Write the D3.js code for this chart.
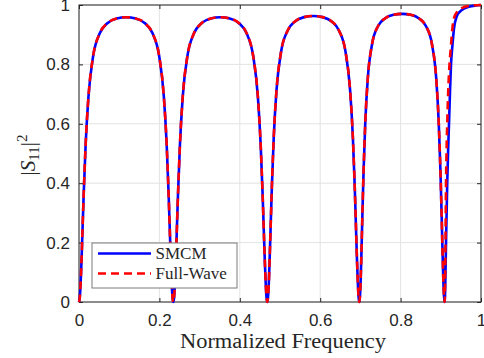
<!DOCTYPE html>
<html>
<head>
<meta charset="utf-8">
<script src="https://cdn.jsdelivr.net/npm/d3@7"></script>
<style>
  body { margin: 0; background: #fff; }
  .tick text { font-family: "Liberation Sans", Arial, sans-serif; font-size: 17px; fill: #262626; }
  .grid line { stroke: #e3e3e3; }
</style>
</head>
<body>
<div id="chart"></div>
<script>
// Data

var xTicks = [0, 0.2, 0.4, 0.6, 0.8, 1];
var yTicks = [0, 0.2, 0.4, 0.6, 0.8, 1];

var seriesNames = ["SMCM", "Full-Wave"];

var freq = [
  0, 0.0019, 0.0038, 0.0059, 0.0082, 0.0117, 0.0164, 0.0235, 0.0352, 0.0516, 0.0704, 0.0938,
  0.1173, 0.1408, 0.1642, 0.1830, 0.1994, 0.2111, 0.2182, 0.2229, 0.2264, 0.2287, 0.2308, 0.2327,
  0.2346, 0.2365, 0.2383, 0.2404, 0.2428, 0.2463, 0.2510, 0.2580, 0.2697, 0.2860, 0.3047, 0.3281,
  0.3515, 0.3749, 0.3983, 0.4170, 0.4333, 0.4450, 0.4520, 0.4567, 0.4602, 0.4626, 0.4647, 0.4665,
  0.4684, 0.4702, 0.4721, 0.4741, 0.4764, 0.4798, 0.4844, 0.4913, 0.5027, 0.5188, 0.5371, 0.5600,
  0.5829, 0.6057, 0.6286, 0.6469, 0.6630, 0.6744, 0.6813, 0.6859, 0.6893, 0.6916, 0.6937, 0.6955,
  0.6973, 0.6990, 0.7007, 0.7026, 0.7047, 0.7079, 0.7122, 0.7185, 0.7292, 0.7440, 0.7610, 0.7823,
  0.8035, 0.8247, 0.8460, 0.8630, 0.8778, 0.8885, 0.8948, 0.8991, 0.9023, 0.9044, 0.9063, 0.9080,
  0.9097, 0.9113, 0.9130, 0.9145, 0.9160, 0.9182, 0.9204, 0.9227, 0.9254, 0.9287, 0.9327, 0.9397,
  0.9477, 0.9577, 0.9697, 0.9847, 1.0
];

var smcm = [
  0, 0.0146, 0.0558, 0.1259, 0.2199, 0.3641, 0.5269, 0.6908, 0.8283, 0.9048, 0.9387, 0.9549,
  0.9590, 0.9549, 0.9387, 0.9048, 0.8283, 0.6908, 0.5269, 0.3641, 0.2199, 0.1259, 0.0558, 0.0146,
  0, 0.0146, 0.0558, 0.1259, 0.2199, 0.3641, 0.5269, 0.6908, 0.8283, 0.9048, 0.9387, 0.9549,
  0.9590, 0.9549, 0.9387, 0.9048, 0.8283, 0.6908, 0.5269, 0.3641, 0.2199, 0.1259, 0.0558, 0.0146,
  0, 0.0162, 0.0616, 0.1380, 0.2385, 0.3889, 0.5530, 0.7129, 0.8427, 0.9135, 0.9445, 0.9592,
  0.9630, 0.9592, 0.9445, 0.9135, 0.8427, 0.7129, 0.5530, 0.3889, 0.2385, 0.1380, 0.0616, 0.0162,
  0, 0.0200, 0.0754, 0.1659, 0.2800, 0.4415, 0.6058, 0.7552, 0.8694, 0.9292, 0.9548, 0.9669,
  0.9700, 0.9669, 0.9548, 0.9292, 0.8694, 0.7552, 0.6058, 0.4415, 0.2800, 0.1659, 0.0754, 0.0200,
  0, 0.07, 0.20, 0.30, 0.40, 0.51, 0.60, 0.70, 0.80, 0.86, 0.92, 0.962,
  0.978, 0.988, 0.994, 0.998, 1.0
];

var fullWave = [
  0, 0.0146, 0.0558, 0.1259, 0.2199, 0.3641, 0.5269, 0.6908, 0.8283, 0.9048, 0.9387, 0.9549,
  0.9590, 0.9549, 0.9387, 0.9048, 0.8283, 0.6908, 0.5269, 0.3641, 0.2199, 0.1259, 0.0558, 0.0146,
  0, 0.0146, 0.0558, 0.1259, 0.2199, 0.3641, 0.5269, 0.6908, 0.8283, 0.9048, 0.9387, 0.9549,
  0.9590, 0.9549, 0.9387, 0.9048, 0.8283, 0.6908, 0.5269, 0.3641, 0.2199, 0.1259, 0.0558, 0.0146,
  0, 0.0162, 0.0616, 0.1380, 0.2385, 0.3889, 0.5530, 0.7129, 0.8427, 0.9135, 0.9445, 0.9592,
  0.9630, 0.9592, 0.9445, 0.9135, 0.8427, 0.7129, 0.5530, 0.3889, 0.2385, 0.1380, 0.0616, 0.0162,
  0, 0.0200, 0.0754, 0.1659, 0.2800, 0.4415, 0.6058, 0.7552, 0.8694, 0.9292, 0.9548, 0.9669,
  0.9700, 0.9669, 0.9548, 0.9292, 0.8694, 0.7552, 0.6058, 0.4415, 0.2800, 0.1659, 0.0754, 0.0200,
  0, 0.15, 0.40, 0.52, 0.60, 0.70, 0.77, 0.82, 0.865, 0.92, 0.955, 0.975,
  0.986, 0.993, 0.997, 0.999, 1.0
];

var margin = {top: 5, right: 3, bottom: 56, left: 79};
var width = 484 - margin.left - margin.right;
var height = 358 - margin.top - margin.bottom;

var x = d3.scaleLinear().domain([0, 1]).range([0, width]);
var y = d3.scaleLinear().domain([0, 1]).range([height, 0]);

var svg = d3.select("#chart").append("svg")
    .attr("width", 484)
    .attr("height", 358);

var plot = svg.append("g")
    .attr("transform", "translate(" + margin.left + "," + margin.top + ")");

// grid
plot.append("g").attr("class", "grid")
  .selectAll("line.vx").data(xTicks).enter().append("line")
    .attr("x1", function(d) { return x(d); })
    .attr("x2", function(d) { return x(d); })
    .attr("y1", 0).attr("y2", height);

plot.append("g").attr("class", "grid")
  .selectAll("line.hy").data(yTicks).enter().append("line")
    .attr("x1", 0).attr("x2", width)
    .attr("y1", function(d) { return y(d); })
    .attr("y2", function(d) { return y(d); });

// axes (ticks pointing inward, MATLAB style)
var fmt = function(d) { return d3.format("")(d); };

plot.append("g")
    .attr("transform", "translate(0," + height + ")")
    .call(d3.axisBottom(x).tickValues(xTicks).tickFormat(fmt).tickSize(-4).tickPadding(12));

plot.append("g")
    .call(d3.axisLeft(y).tickValues(yTicks).tickFormat(fmt).tickSize(-4).tickPadding(9));

plot.append("g")
    .call(d3.axisTop(x).tickValues(xTicks).tickFormat("").tickSize(-4));

plot.append("g")
    .attr("transform", "translate(" + width + ",0)")
    .call(d3.axisRight(y).tickValues(yTicks).tickFormat("").tickSize(-4));

plot.selectAll(".domain").remove();
plot.selectAll(".tick line").attr("stroke", "#262626");

plot.append("rect")
    .attr("width", width)
    .attr("height", height)
    .attr("fill", "none")
    .attr("stroke", "#262626")
    .attr("stroke-width", 1);

// curves
var line = d3.line()
    .x(function(d) { return x(d[0]); })
    .y(function(d) { return y(d[1]); })
    .curve(d3.curveMonotoneX);

plot.append("path")
    .datum(d3.zip(freq, smcm))
    .attr("fill", "none")
    .attr("stroke", "#0000ff")
    .attr("stroke-width", 2.6)
    .attr("d", line);

plot.append("path")
    .datum(d3.zip(freq, fullWave))
    .attr("fill", "none")
    .attr("stroke", "#ff0000")
    .attr("stroke-width", 2.6)
    .attr("stroke-dasharray", "8,5")
    .attr("d", line);

// legend
var legend = svg.append("g").attr("transform", "translate(92,243)");

legend.append("rect")
    .attr("width", 145)
    .attr("height", 45)
    .attr("fill", "#fff")
    .attr("stroke", "#7a7a7a")
    .attr("stroke-width", 1);

var legendStyles = [{color: "#0000ff", dash: null}, {color: "#ff0000", dash: "8,5"}];

legend.selectAll(".entry")
    .data(seriesNames)
    .enter().append("g")
    .attr("class", "entry")
    .attr("transform", function(d, i) { return "translate(0," + (10.5 + i * 20) + ")"; })
    .each(function(d, i) {
      var g = d3.select(this);
      g.append("line")
        .attr("x1", 6).attr("x2", 59)
        .attr("stroke", legendStyles[i].color)
        .attr("stroke-width", 2.6)
        .attr("stroke-dasharray", legendStyles[i].dash);
      g.append("text")
        .attr("x", 63.5)
        .attr("dy", "0.33em")
        .style("font-family", "'Liberation Serif', 'Times New Roman', serif")
        .style("font-size", "17px")
        .attr("fill", "#262626")
        .text(d);
    });

// axis labels
svg.append("text")
    .attr("x", margin.left + width / 2 + 3)
    .attr("y", 348)
    .attr("text-anchor", "middle")
    .attr("textLength", 206)
    .attr("lengthAdjust", "spacingAndGlyphs")
    .style("font-family", "'Liberation Serif', 'Times New Roman', serif")
    .style("font-size", "20px")
    .attr("fill", "#262626")
    .text("Normalized Frequency");

var ylab = svg.append("text")
    .attr("transform", "translate(35,155) rotate(-90)")
    .attr("text-anchor", "middle")
    .style("font-family", "'Liberation Serif', 'Times New Roman', serif")
    .style("font-size", "21px")
    .attr("fill", "#262626");

ylab.append("tspan").text("|");
ylab.append("tspan").style("font-style", "italic").text("S");
ylab.append("tspan").attr("dy", 4).style("font-size", "15px").text("11");
ylab.append("tspan").attr("dy", -4).text("|");
ylab.append("tspan").attr("dy", -8).style("font-size", "15px").text("2");
</script>
</body>
</html>
